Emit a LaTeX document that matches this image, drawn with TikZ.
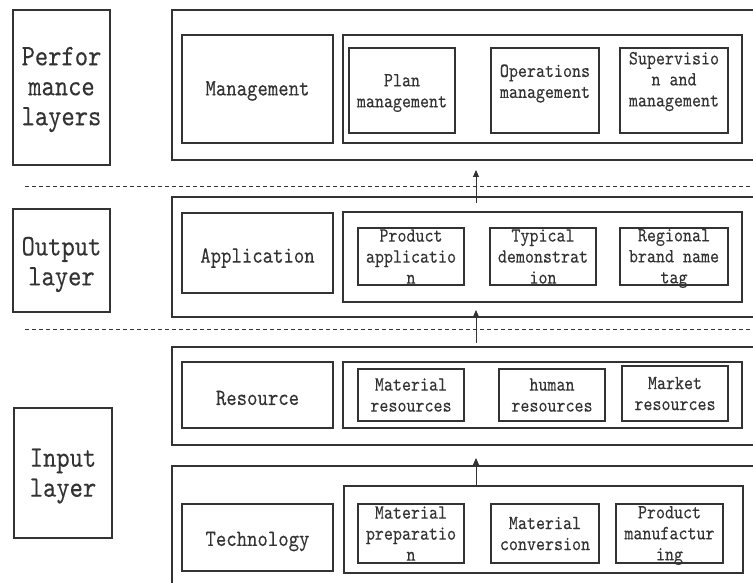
\documentclass[tikz,border=0pt]{standalone}
\usepackage{fontspec}
\setmonofont{lmmono10-regular}[Extension=.otf, FakeStretch=0.85, FakeBold=0.15]
\usetikzlibrary{arrows.meta}
\definecolor{ink}{HTML}{333333}

% \panel{name}{left}{top}{right}{bottom}: an empty framed box, coordinates in px (y downwards)
\newcommand\panel[5]{%
  \node[frame, minimum width={(#4-#2)*1pt}, minimum height={(#5-#3)*1pt}] (#1) at (#2,#3) {};}

\begin{document}
\begin{tikzpicture}[x=1pt,y=-1pt,
  frame/.style={draw=ink, line width=1.2pt, inner sep=0pt, outer sep=0pt, anchor=north west},
  lbl/.style={font=\ttfamily\fontsize{29.8}{30}\selectfont, align=center, inner sep=0pt, text=ink},
  main/.style={font=\ttfamily\fontsize{23.3}{24}\selectfont, align=center, inner sep=0pt, text=ink},
  item/.style={font=\ttfamily\fontsize{20.2}{21}\selectfont, align=center, inner sep=0pt, text=ink},
  sep/.style={draw=ink, line width=0.9pt, dash pattern=on 4pt off 3pt},
  up/.style={draw=ink, line width=0.9pt, -{Triangle[length=7pt,width=6pt]}}]

\useasboundingbox (0,0) rectangle (753,583);
\clip (0,0) rectangle (753,583);

% ---- performance layers ----
\panel{perf}{13}{10}{110}{165}
\panel{perfouter}{172}{10}{800}{160}
\panel{mgmt}{182}{35}{333}{143}
\panel{mgmtgrp}{343}{35}{742}{143}
\panel{plan}{349}{48}{455}{133}
\panel{oper}{491}{48}{599}{133}
\panel{superv}{620}{48}{728}{133}

% ---- output layer ----
\panel{outl}{13}{209}{110}{312}
\panel{outouter}{172}{197}{800}{317}
\panel{appl}{182}{213}{333}{293}
\panel{applgrp}{343}{212}{742}{302}
\panel{prod}{358}{228}{464}{285}
\panel{typ}{490}{228}{596}{285}
\panel{reg}{620}{228}{728}{285}

% ---- input layer ----
\panel{inl}{14}{408}{112}{538}
\panel{resouter}{172}{347}{800}{445}
\panel{res}{182}{362}{333}{428}
\panel{resgrp}{343}{362}{742}{428}
\panel{matres}{358}{369}{464}{421}
\panel{humres}{499}{369}{605}{421}
\panel{mktres}{622}{366}{728}{421}
\panel{techouter}{172}{466}{800}{620}
\panel{tech}{182}{504}{333}{571}
\panel{techgrp}{344}{486}{743}{573}
\panel{matprep}{358}{504}{464}{563}
\panel{matconv}{491}{504}{599}{563}
\panel{prodman}{616}{504}{723}{563}

% ---- texts ----
\node[lbl]  (perf-t)   at ([yshift=-2pt]perf.center)   {Perfor\\mance\\layers};
\node[main] (mgmt-t)   at ([yshift=-2pt]mgmt.center)   {Management};
\node[item] (plan-t)   at ([yshift=-2.5pt]plan.center) {Plan\\management};
\node[item] (oper-t)   at ([yshift=7pt]oper.center)    {Operations\\management};
\node[item] (superv-t) at ([yshift=9pt]superv.center)  {Supervisio\\n and\\management};

\node[lbl]  (outl-t) at ([yshift=-4pt]outl.center) {Output\\layer};
\node[main] (appl-t) at ([yshift=-5pt]appl.center) {Application};
\node[item] (prod-t) at (prod) {Product\\applicatio\\n};
\node[item] (typ-t)  at (typ)  {Typical\\demonstrat\\ion};
\node[item] (reg-t)  at ([yshift=-2pt]reg.center) {Regional\\brand name\\tag};

\node[lbl]  (inl-t)     at ([yshift=-3pt]inl.center)  {Input\\layer};
\node[main] (res-t)     at ([yshift=-3pt]res.center)  {Resource};
\node[item] (matres-t)  at (matres)  {Material\\resources};
\node[item] (humres-t)  at (humres)  {human\\resources};
\node[item] (mktres-t)  at (mktres)  {Market\\resources};
\node[main] (tech-t)    at ([yshift=-4pt]tech.center) {Technology};
\node[item] (matprep-t) at (matprep) {Material\\preparatio\\n};
\node[item] (matconv-t) at (matconv) {Material\\conversion};
\node[item] (prodman-t) at ([yshift=-2pt]prodman.center) {Product\\manufactur\\ing};

% ---- layer separators ----
\draw[sep] (25,186) -- (753,186);
\draw[sep] (25,329) -- (753,329);

% ---- upward flow arrows ----
\coordinate (a1s) at (476,203);
\coordinate (a1e) at (476,170);
\coordinate (a2s) at (476,343);
\coordinate (a2e) at (476,310);
\coordinate (a3e) at (476,458);
\draw[up] (a1s) -- (a1e);
\draw[up] (a2s) -- (a2e);
\draw[up] (techgrp.north -| a3e) -- (a3e);
\end{tikzpicture}
\end{document}
